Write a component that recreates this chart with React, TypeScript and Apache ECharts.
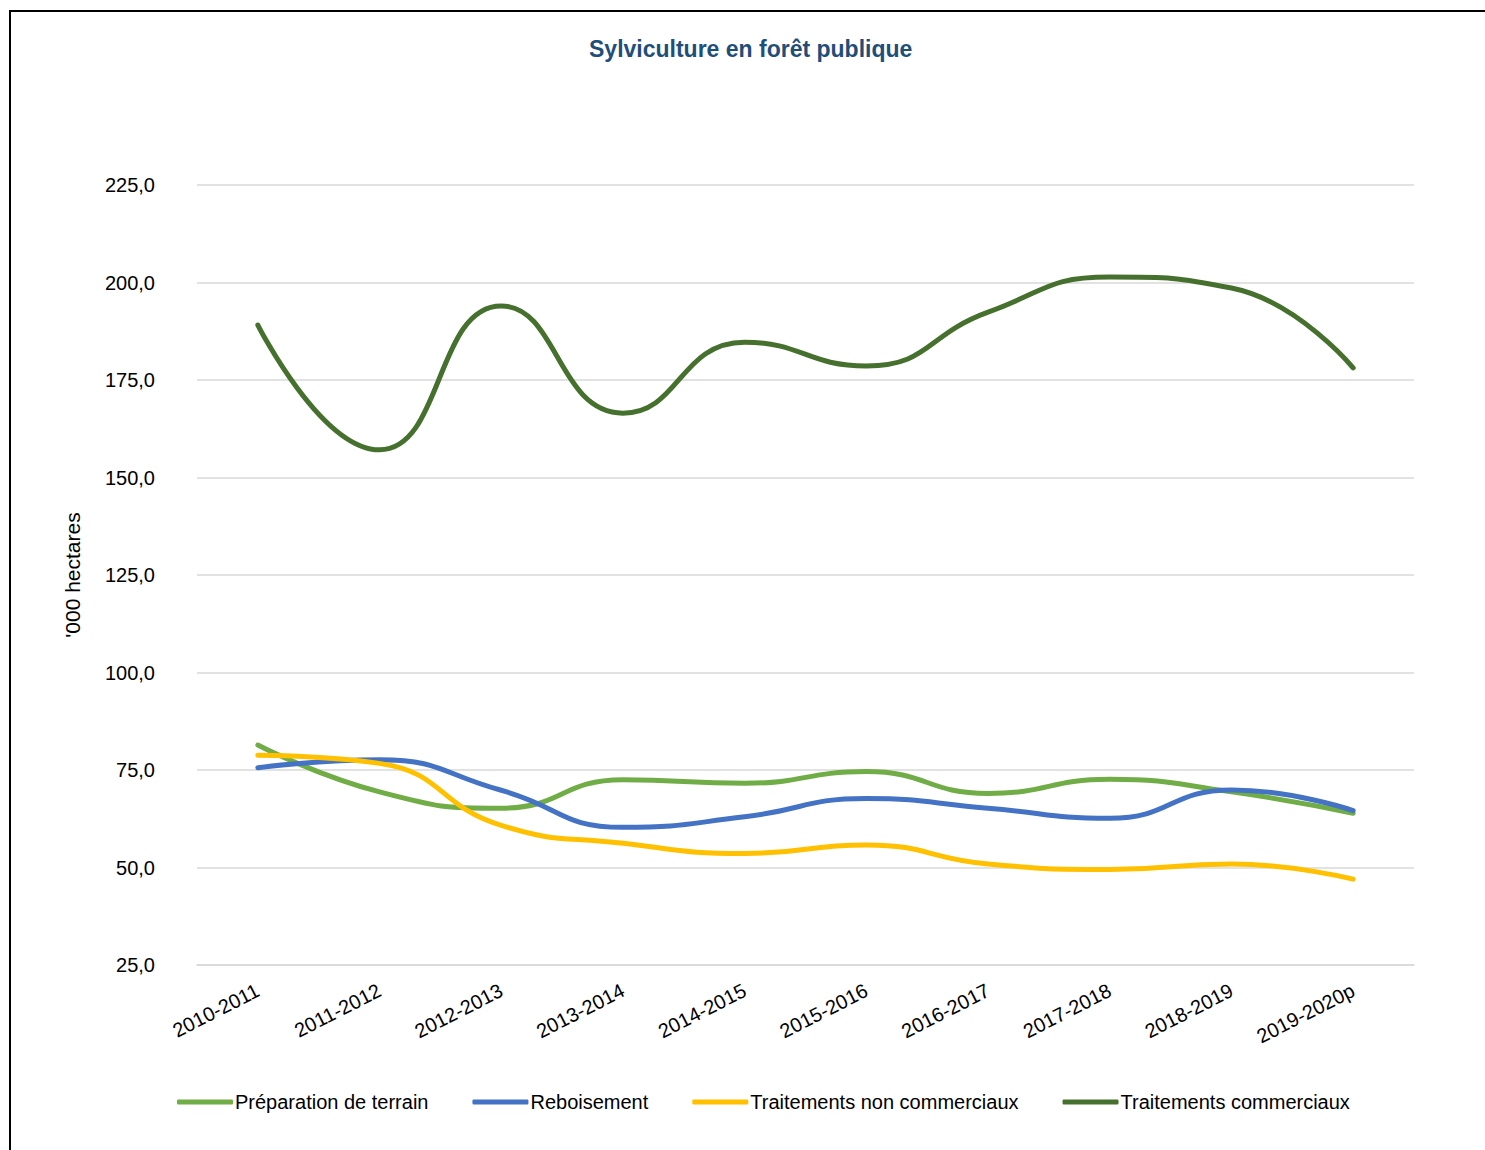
import React, { useEffect, useRef } from "react";
import * as echarts from "echarts";

const categories = [
  "2010-2011", "2011-2012", "2012-2013", "2013-2014", "2014-2015",
  "2015-2016", "2016-2017", "2017-2018", "2018-2019", "2019-2020p",
];
const preparation = [81.4, 69.4, 65.2, 72.5, 71.6, 74.6, 69.0, 72.6, 69.4, 63.9];
const reboisement = [75.6, 77.6, 69.8, 60.3, 63.0, 67.7, 65.2, 62.6, 69.9, 64.6];
const nonCommerciaux = [78.8, 76.7, 60.8, 56.2, 53.6, 55.8, 50.9, 49.5, 50.9, 47.0];
const commerciaux = [189.1, 157.1, 194.0, 166.5, 184.7, 178.6, 192.4, 201.4, 198.6, 178.1];

const FONT = "'Liberation Sans Narrow', 'Arial Narrow', 'Liberation Sans', Arial, sans-serif";

export default function App() {
  const ref = useRef<HTMLDivElement>(null);
  useEffect(() => {
    if (!ref.current) return;
    const chart = echarts.init(ref.current, undefined, { renderer: "svg" });
    const mk = (name: string, data: number[], color: string) => ({
      name,
      type: "line",
      data,
      smooth: 0.5,
      showSymbol: false,
      symbol: "none",
      lineStyle: { color, width: 5, cap: "round" },
      itemStyle: { color },
    });
    chart.setOption({
      animation: false,
      textStyle: { fontFamily: FONT },
      title: {
        text: "Sylviculture en forêt publique",
        left: 584,
        top: 32,
        textStyle: { color: "#1F4E79", fontSize: 23, fontWeight: "bold", fontFamily: FONT },
      },
      grid: { left: 197, right: 71, top: 185, bottom: 185 },
      legend: {
        bottom: 33,
        left: 172,
        icon: "roundRect",
        itemWidth: 56,
        itemHeight: 5,
        itemGap: 44,
        textStyle: { fontSize: 20, color: "#000", fontFamily: FONT, padding: [0, 0, 0, -3] },
        data: ["Préparation de terrain", "Reboisement", "Traitements non commerciaux", "Traitements commerciaux"],
      },
      xAxis: {
        type: "category",
        data: categories,
        boundaryGap: true,
        axisLine: { lineStyle: { color: "#D9D9D9", width: 1.5 } },
        axisTick: { inside: true, length: 6, lineStyle: { color: "#D9D9D9", width: 1.5 } },
        axisLabel: { rotate: 27, fontSize: 20, color: "#000", fontFamily: FONT, margin: 24, interval: 0 },
      },
      yAxis: {
        type: "value",
        min: 25,
        max: 225,
        interval: 25,
        name: "'000 hectares",
        nameLocation: "middle",
        nameGap: 114,
        nameRotate: 90,
        nameTextStyle: { fontSize: 21, color: "#000", fontFamily: FONT },
        axisLine: { show: false },
        axisTick: { show: false },
        splitLine: { lineStyle: { color: "#D9D9D9", width: 1.5 } },
        axisLabel: {
          fontSize: 20,
          color: "#000",
          fontFamily: FONT,
          margin: 42,
          formatter: (v: number) => v.toFixed(1).replace(".", ","),
        },
      },
      series: [
        mk("Préparation de terrain", preparation, "#70AD47"),
        mk("Reboisement", reboisement, "#4472C4"),
        mk("Traitements non commerciaux", nonCommerciaux, "#FFC000"),
        mk("Traitements commerciaux", commerciaux, "#46702D"),
      ],
    });
    return () => chart.dispose();
  }, []);
  return (
    <div style={{ position: "absolute", left: 0, top: 0, width: 1485, height: 1150, background: "#fff", overflow: "hidden" }}>
      <div style={{ position: "absolute", left: 9, top: 10, width: 1490, height: 1150, border: "2px solid #000", boxSizing: "border-box" }} />
      <div ref={ref} style={{ position: "absolute", left: 0, top: 0, width: 1485, height: 1150 }} />
    </div>
  );
}
